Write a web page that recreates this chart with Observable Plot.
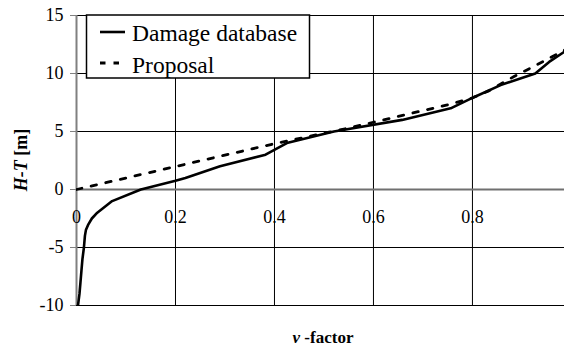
<!DOCTYPE html>
<html><head><meta charset="utf-8">
<script src="https://cdn.jsdelivr.net/npm/d3@7"></script>
<script src="https://cdn.jsdelivr.net/npm/@observablehq/plot@0.6"></script>
<style>
html,body{margin:0;padding:0;background:#fff;}
#wrap{position:relative;width:564px;height:347px;overflow:hidden;font-family:"Liberation Serif","DejaVu Serif",serif;}
#wrap svg{position:absolute;left:0;top:0;}
#wrap svg text{font-family:"Liberation Serif","DejaVu Serif",serif;}
</style></head><body><div id="wrap"></div>
<script>
// Data
const damageV = [0.003,0.006,0.008,0.010,0.012,0.015,0.017,0.019,0.024,0.031,0.042,0.072,0.13,0.20,0.22,0.29,0.382,0.425,0.52,0.658,0.756,0.805,0.857,0.927,0.955,0.99];
const damageH = [-10,-9,-8,-7,-6,-5,-4,-3.5,-3,-2.5,-2,-1,0,0.75,1,2,3,4,5,6,7,8,9,10,11,12];
const proposalV = [0,0.2,0.4,0.55,0.67,0.756,0.8,0.833,0.884,0.937,0.99];
const proposalH = [0,1.98,3.95,5.3,6.5,7.36,7.9,8.5,9.74,10.9,12.1];
const yTicks = [-10,-5,0,5,10,15];
const xTicks = [0,0.2,0.4,0.6,0.8];
const xTickLabels = ["0","0.2","0.4","0.6","0.8"];
const seriesNames = ["Damage database","Proposal"];

const damage = damageV.map((v,i)=>({v, h: damageH[i]}));
const proposal = proposalV.map((v,i)=>({v, h: proposalH[i]}));
const xLabelRows = xTicks.map((v,i)=>({v, h: 0, label: xTickLabels[i]}));

const serif = "'Liberation Serif','DejaVu Serif',serif";
const chart = Plot.plot({
  width: 564, height: 347,
  marginLeft: 76, marginRight: 0, marginTop: 15, marginBottom: 42,
  style: {fontFamily: serif, fontSize: "18px", color: "#000", background: "transparent"},
  x: {domain: [0, 0.986], axis: null},
  y: {domain: [-10, 15], axis: null},
  marks: [
    Plot.gridY(yTicks.filter(d => d !== 0), {stroke: "#000", strokeOpacity: 1, strokeWidth: 1}),
    Plot.gridX(xTicks.slice(1), {stroke: "#000", strokeOpacity: 1, strokeWidth: 1}),
    Plot.ruleY([0], {stroke: "#707070", strokeWidth: 1.8}),
    Plot.ruleX([0], {stroke: "#808080", strokeWidth: 2}),
    Plot.axisY(yTicks, {tickSize: 6, tickPadding: 7, tickFormat: d => String(d), label: null, fontSize: 18, stroke: "#808080"}),
    Plot.text(xLabelRows, {x: "v", y: "h", text: "label", dy: 28, fontSize: 18, fill: "#000"}),
    Plot.line(proposal, {x: "v", y: "h", stroke: "#000", strokeWidth: 2.8, strokeDasharray: "5.5,9.5", clip: true}),
    Plot.line(damage, {x: "v", y: "h", stroke: "#000", strokeWidth: 2.6, clip: true})
  ]
});
const wrap = document.getElementById("wrap");
wrap.appendChild(chart);

// Overlay: axis titles and legend
const ov = d3.select(wrap).append("svg").attr("width", 564).attr("height", 347);
const yt = ov.append("text").attr("transform", "translate(27,160) rotate(-90)")
  .attr("text-anchor", "middle").attr("font-size", 18).attr("font-weight", "bold").attr("fill", "#000");
yt.append("tspan").attr("font-style", "italic").text("H-T");
yt.append("tspan").text(" [m]");
const xt = ov.append("text").attr("x", 323).attr("y", 343).attr("text-anchor", "middle")
  .attr("font-size", 17).attr("font-weight", "bold").attr("fill", "#000");
xt.append("tspan").attr("font-style", "italic").text("ν");
xt.append("tspan").text(" -factor");

const lg = ov.append("g");
lg.append("rect").attr("x", 86.5).attr("y", 15).attr("width", 223).attr("height", 63)
  .attr("fill", "#fff").attr("stroke", "#000").attr("stroke-width", 1.5);
const rows = [{y: 32, dash: null, base: 41}, {y: 63, dash: "5.5,8", base: 72.5}];
rows.forEach((r, i) => {
  const l = lg.append("line").attr("x1", 100).attr("x2", i ? 121 : 125).attr("y1", r.y).attr("y2", r.y)
    .attr("stroke", "#000").attr("stroke-width", i ? 2.8 : 2.6);
  if (r.dash) l.attr("stroke-dasharray", r.dash);
  lg.append("text").attr("x", 132).attr("y", r.base).attr("font-size", 23.5).attr("fill", "#000").text(seriesNames[i]);
});
</script></body></html>
